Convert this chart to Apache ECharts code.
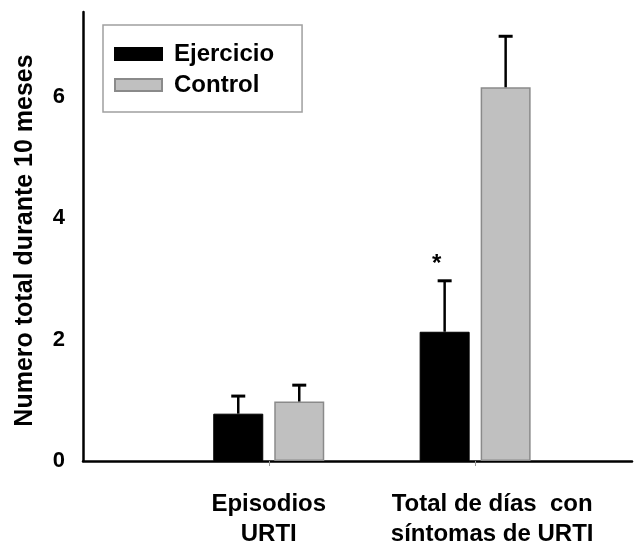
<!DOCTYPE html>
<html>
<head>
<meta charset="utf-8">
<script src="https://cdn.jsdelivr.net/npm/echarts@6/dist/echarts.min.js"></script>
<style>
  html, body { margin: 0; padding: 0; background: #fff; }
  #main { width: 637px; height: 545px; }
</style>
</head>
<body>
<div id="main"></div>
<script>
var categories = ["Episodios\nURTI", "Total de días  con\nsíntomas de URTI"];
var catPos = [1, 2];
var ejercicio = [0.78, 2.13];
var ejercicioErr = [0.29, 0.84];
var control = [0.98, 6.16];
var controlErr = [0.27, 0.84];
var ejercicioMarks = ["", "*"];

var font = "Liberation Sans, Arial, sans-serif";

function barData(values) {
  return values.map(function (v, i) {
    return [catPos[i], v];
  });
}

function errData(values, errs, marks) {
  return values.map(function (v, i) {
    return [catPos[i], v, errs[i], marks ? marks[i] : ""];
  });
}

// error bars drawn beside the matching bar, only the upper half
function errorSeries(name, values, errs, offset, marks) {
  return {
    name: name,
    type: "custom",
    z: 3,
    data: errData(values, errs, marks),
    renderItem: function (params, api) {
      var x = api.value(0);
      var v = api.value(1);
      var e = api.value(2);
      var mark = marks ? marks[params.dataIndex] : "";
      var base = api.coord([x, v]);
      var top = api.coord([x, v + e]);
      var cx = base[0] + offset;
      var children = [
        {
          type: "line",
          shape: { x1: cx, y1: base[1], x2: cx, y2: top[1] },
          style: { stroke: "#000", lineWidth: 2.5 },
        },
        {
          type: "line",
          shape: { x1: cx - 7, y1: top[1], x2: cx + 7, y2: top[1] },
          style: { stroke: "#000", lineWidth: 3 },
        },
      ];
      if (mark) {
        children.push({
          type: "text",
          style: {
            text: mark,
            x: cx - 8,
            y: top[1] - 4,
            textAlign: "center",
            textVerticalAlign: "bottom",
            font: "bold 24px " + font,
            fill: "#000",
          },
        });
      }
      return { type: "group", children: children };
    },
  };
}

var myChart = echarts.init(document.getElementById("main"), null, {
  renderer: "canvas",
});

var option = {
  animation: false,
  backgroundColor: "#fff",
  grid: { left: 83, right: 5, top: 12, bottom: 84, outerBoundsMode: "none" },
  legend: {
    data: ["Ejercicio", "Control"],
    orient: "vertical",
    left: 103,
    top: 25,
    padding: [17, 28, 15, 11],
    itemWidth: 47,
    itemHeight: 12,
    itemGap: 7,
    icon: "rect",
    borderColor: "#a0a0a0",
    borderWidth: 1.5,
    backgroundColor: "#fff",
    textStyle: {
      fontFamily: font,
      fontSize: 24,
      fontWeight: "bold",
      color: "#000",
      lineHeight: 24,
      padding: [0, 0, 0, 7],
    },
  },
  xAxis: {
    type: "value",
    min: 0.1,
    max: 2.76,
    splitLine: { show: false },
    axisLine: { lineStyle: { color: "#000", width: 2.5 } },
    axisTick: {
      customValues: catPos,
      length: 5,
      lineStyle: { color: "#999", width: 1 },
    },
    axisLabel: {
      customValues: catPos,
      margin: 28,
      fontFamily: font,
      fontSize: 24,
      fontWeight: "bold",
      color: "#000",
      lineHeight: 30,
      formatter: function (value) {
        var i = catPos.indexOf(value);
        if (i < 0) return "";
        var lines = categories[i].split("\n");
        var tag = i === 1 ? "s" : "n";
        return lines.map(function (l) {
          return "{" + tag + "|" + l + "}";
        }).join("\n");
      },
      rich: {
        n: {
          fontFamily: font,
          fontSize: 24,
          fontWeight: "bold",
          color: "#000",
          lineHeight: 30,
        },
        s: {
          fontFamily: font,
          fontSize: 24,
          fontWeight: "bold",
          color: "#000",
          lineHeight: 30,
          padding: [0, 0, 0, 34],
        },
      },
    },
  },
  yAxis: {
    type: "value",
    min: 0,
    max: 7.4,
    interval: 2,
    name: "Numero total durante 10 meses",
    nameLocation: "middle",
    nameGap: 45,
    nameTextStyle: {
      fontFamily: font,
      fontSize: 25,
      fontWeight: "bold",
      color: "#000",
      padding: [0, 8, 0, 0],
    },
    splitLine: { show: false },
    axisTick: { show: false },
    axisLine: { show: true, lineStyle: { color: "#000", width: 2.5 } },
    axisLabel: {
      margin: 18,
      fontFamily: font,
      fontSize: 22,
      fontWeight: "bold",
      color: "#000",
      showMaxLabel: false,
    },
  },
  series: [
    {
      name: "Ejercicio",
      type: "bar",
      barWidth: 50,
      barGap: "22%",
      data: barData(ejercicio),
      itemStyle: { color: "#000", borderColor: "#000", borderWidth: 1 },
    },
    {
      name: "Control",
      type: "bar",
      barWidth: 50,
      barGap: "22%",
      data: barData(control),
      itemStyle: { color: "#c0c0c0", borderColor: "#8a8a8a", borderWidth: 1.5 },
    },
    errorSeries("Ejercicio error", ejercicio, ejercicioErr, -30.5, ejercicioMarks),
    errorSeries("Control error", control, controlErr, 30.5),
  ],
};

if (option && typeof option === "object") {
  myChart.setOption(option);
}

window.addEventListener("resize", myChart.resize);
</script>
</body>
</html>
